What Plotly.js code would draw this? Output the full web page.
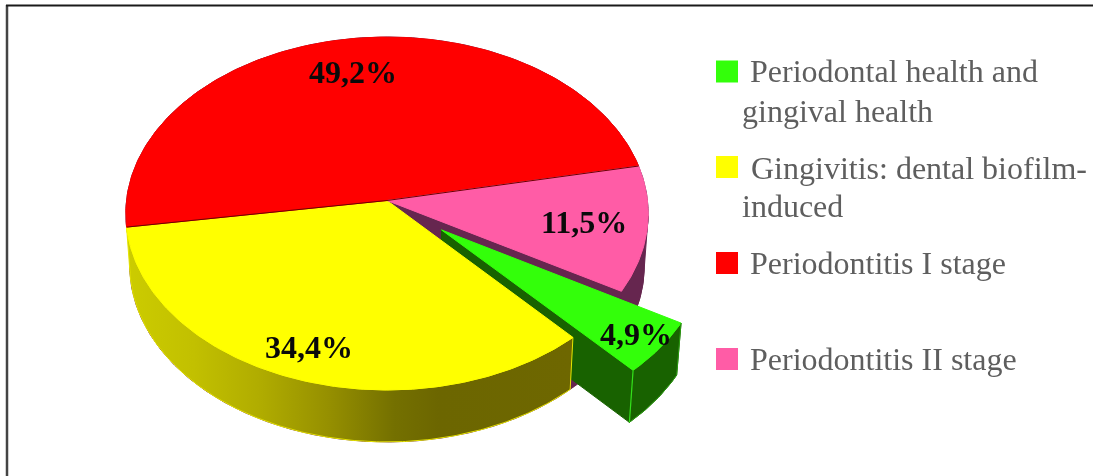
<!DOCTYPE html>
<html>
<head>
<meta charset="utf-8">
<script src="https://cdn.plot.ly/plotly-3.0.1.min.js"></script>
<style>html,body{margin:0;padding:0;background:#fff}#chart{width:1093px;height:476px;filter:blur(0.45px)}</style>
</head>
<body>
<div id="chart"></div>
<script>
// --- data ---
const categories = ["Periodontal health and gingival health", "Gingivitis: dental biofilm-induced", "Periodontitis I stage", "Periodontitis II stage"];
const shares = [4.9, 34.4, 49.2, 11.5];
const legendLines = [["Periodontal health and", "gingival health"], ["Gingivitis: dental biofilm-", "induced"], ["Periodontitis I stage"], ["Periodontitis II stage"]];

// --- styles ---
const topColors = ["#33ff0a", "#ffff00", "#ff0000", "#ff5ca6"];
const wallColors = ["#186200", "#6c6600", "#800000", "#66264f"];

// --- projection of the tilted disc onto the page ---
const CX = 387, CY = 200.5, RX = 260.5, RY = 175.5, PERSP = 0.0736, DEPTH = 52, BASE_SCALE = 0.985;
const START_DEG = -29.9;
const PULL = 0.265;
function project(u, v) { const k = 1 / (1 - PERSP * v); return [CX + RX * u * k, CY + RY * v * k]; }
function down(p) { return [CX + (p[0] - CX) * BASE_SCALE, p[1] + DEPTH]; }
const total = shares.reduce((a, b) => a + b, 0);
const slices = [];
let cursor = START_DEG;
shares.forEach((s, i) => { const sweep = s / total * 360; slices.push({ i, from: cursor, to: cursor - sweep }); cursor -= sweep; });
function rimPoint(deg, off) { const r = deg * Math.PI / 180; return project(Math.cos(r) + off[0], -Math.sin(r) + off[1]); }
function arc(from, to, off) { const out = [], n = Math.max(2, Math.ceil(Math.abs(to - from) * 1.5)); for (let k = 0; k <= n; k++) out.push(rimPoint(from + (to - from) * k / n, off)); return out; }
const NO = [0, 0];
const mid = (slices[0].from + slices[0].to) / 2 * Math.PI / 180;
const pulled = [PULL * Math.cos(mid), -PULL * Math.sin(mid)];
function poly(pts, color, opt) {
  const xs = pts.map(p => p[0]).concat([pts[0][0]]), ys = pts.map(p => p[1]).concat([pts[0][1]]);
  return Object.assign({ type: "scatter", mode: "lines", x: xs, y: ys, fill: "toself", fillcolor: color, line: { color: color, width: 1 }, hoverinfo: "skip", showlegend: false }, opt || {});
}
function edge(pts, color, width) {
  return { type: "scatter", mode: "lines", x: pts.map(p => p[0]), y: pts.map(p => p[1]), line: { color: color, width: width || 1 }, hoverinfo: "skip", showlegend: false };
}
function topFace(s, off) { return [project(off[0], off[1])].concat(arc(s.from, s.to, off)); }
function wall(top) { return top.concat(top.map(down).reverse()); }

const [green, yellow, red, pink] = slices;
const traces = [];
traces.push(poly(wall(arc(-5, pink.to, NO)), wallColors[3]));
traces.push(poly(wall([project(0, 0), rimPoint(pink.to, NO)]), wallColors[3]));
const gApex = project(pulled[0], pulled[1]);
const gArc = arc(green.from, green.to, pulled);
const gCorner = gArc[gArc.length - 1], gRight = gArc[0];
traces.push(poly(wall([gApex, gCorner]), wallColors[0]));
traces.push(poly(wall(gArc), wallColors[0]));
traces.push(poly([gApex].concat(gArc), topColors[0]));
traces.push(edge([gCorner, down(gCorner)], "#33e01a", 1.2));
traces.push(edge([down(gCorner)].concat(gArc.slice().reverse().map(down)), "#2a9a10", 1));
traces.push(edge([gRight, down(gRight)], "#2a9a10", 1));
traces.push(poly(wall(arc(yellow.from, yellow.to, NO)), "#6c6600", {
  line: { color: "#e6e600", width: 1 },
  fillcolor: undefined,
  fillgradient: { type: "horizontal", colorscale: [[0, "#cccc00"], [0.15, "#c2c000"], [0.3, "#b0ac00"], [0.45, "#969000"], [0.6, "#747000"], [0.7, "#6c6600"], [1, "#6e6700"]] }
}));
traces.push(poly(topFace(yellow, NO), topColors[1]));
traces.push(poly(topFace(red, NO), topColors[2]));
traces.push(poly(topFace(pink, NO), topColors[3]));
traces.push(edge([rimPoint(yellow.to, NO), project(0, 0), rimPoint(red.to, NO)], "#6a0000", 1));

// legend swatches
const swatchY = [71.5, 167, 263, 359], swatchX = 727;
topColors.forEach((c, i) => traces.push({
  type: "scatter", mode: "markers", x: [swatchX], y: [swatchY[i]], name: categories[i],
  marker: { symbol: "square", size: 22, color: c }, hoverinfo: "name", showlegend: false
}));

// annotations
const fmt = v => v.toFixed(1).replace(".", ",") + "%";
const labelPos = [[636, 334], [309, 347], [353, 72], [584, 222]];
const annotations = shares.map((v, i) => ({
  x: labelPos[i][0], y: labelPos[i][1], text: "<b>" + fmt(v) + "</b>", showarrow: false, xanchor: "center", yanchor: "middle",
  font: { family: "Liberation Serif", size: 32, color: "#0a0a0a" }
}));
const legendFirstX = [747.5, 749, 747.5, 747.5], legendSecondX = 740;
const legendBaseY = [[71, 111], [168, 206], [263], [359]];
legendLines.forEach((lines, i) => lines.forEach((t, j) => annotations.push({
  x: j === 0 ? legendFirstX[i] : legendSecondX, y: legendBaseY[i][j], text: t, showarrow: false, xanchor: "left", yanchor: "middle",
  font: { family: "Liberation Serif", size: 32, color: "#5e5e5e" }
})));

const shapes = [
  { type: "line", x0: 7, x1: 7, y0: 5, y1: 476, line: { color: "#444", width: 2.5 } },
  { type: "line", x0: 6, x1: 1093, y0: 5.5, y1: 5.5, line: { color: "#1a1a1a", width: 2 } }
];

Plotly.newPlot("chart", traces, {
  width: 1093, height: 476, margin: { l: 0, r: 0, t: 0, b: 0 }, paper_bgcolor: "#fff", plot_bgcolor: "#fff", showlegend: false,
  xaxis: { range: [0, 1093], visible: false, fixedrange: true },
  yaxis: { range: [476, 0], visible: false, fixedrange: true },
  annotations, shapes
}, { displayModeBar: false, staticPlot: true });
</script>
</body>
</html>
